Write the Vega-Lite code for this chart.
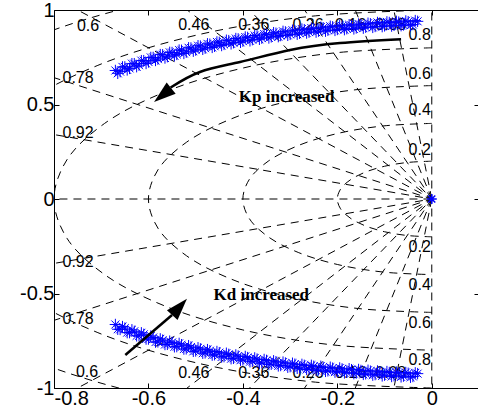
{
"$schema":"https://vega.github.io/schema/vega-lite/v6.json",
"width":425,"height":378,
"autosize":{"type":"none"},
"padding":{"left":54,"top":10,"right":0,"bottom":29},
"background":"white",
"config":{"view":{"stroke":"black","strokeWidth":1},
 "axis":{"domain":false,"grid":false,"ticks":true,"tickSize":-5,"tickColor":"black","labelColor":"black","labelFont":"Liberation Sans","labelFontSize":20,"title":null}},
"resolve":{"axis":{"x":"independent","y":"independent"}},
"datasets":{
"rays":[
{"g":"z92u","x":0,"y":0},{"g":"z92u","x":-1.38,"y":0.588},
{"g":"z78u","x":0,"y":0},{"g":"z78u","x":-1.17,"y":0.939},
{"g":"z60u","x":0,"y":0},{"g":"z60u","x":-0.9,"y":1.2},
{"g":"z46u","x":0,"y":0},{"g":"z46u","x":-0.69,"y":1.332},
{"g":"z36u","x":0,"y":0},{"g":"z36u","x":-0.54,"y":1.399},
{"g":"z26u","x":0,"y":0},{"g":"z26u","x":-0.39,"y":1.448},
{"g":"z16u","x":0,"y":0},{"g":"z16u","x":-0.24,"y":1.481},
{"g":"z08u","x":0,"y":0},{"g":"z08u","x":-0.12,"y":1.495},
{"g":"z92l","x":0,"y":0},{"g":"z92l","x":-1.38,"y":-0.588},
{"g":"z78l","x":0,"y":0},{"g":"z78l","x":-1.17,"y":-0.939},
{"g":"z60l","x":0,"y":0},{"g":"z60l","x":-0.9,"y":-1.2},
{"g":"z46l","x":0,"y":0},{"g":"z46l","x":-0.69,"y":-1.332},
{"g":"z36l","x":0,"y":0},{"g":"z36l","x":-0.54,"y":-1.399},
{"g":"z26l","x":0,"y":0},{"g":"z26l","x":-0.39,"y":-1.448},
{"g":"z16l","x":0,"y":0},{"g":"z16l","x":-0.24,"y":-1.481},
{"g":"z08l","x":0,"y":0},{"g":"z08l","x":-0.12,"y":-1.495},
{"g":"real","x":0,"y":0},{"g":"real","x":-1.5,"y":0},
{"g":"imag","x":0,"y":-1.5},{"g":"imag","x":0,"y":1.5}
],
"circles":[
{"r":0.2,"i":0,"x":0,"y":0.2},{"r":0.2,"i":1,"x":-0.0518,"y":0.1932},{"r":0.2,"i":2,"x":-0.1,"y":0.1732},{"r":0.2,"i":3,"x":-0.1414,"y":0.1414},{"r":0.2,"i":4,"x":-0.1732,"y":0.1},{"r":0.2,"i":5,"x":-0.1932,"y":0.0518},{"r":0.2,"i":6,"x":-0.2,"y":0},{"r":0.2,"i":7,"x":-0.1932,"y":-0.0518},{"r":0.2,"i":8,"x":-0.1732,"y":-0.1},{"r":0.2,"i":9,"x":-0.1414,"y":-0.1414},{"r":0.2,"i":10,"x":-0.1,"y":-0.1732},{"r":0.2,"i":11,"x":-0.0518,"y":-0.1932},{"r":0.2,"i":12,"x":0,"y":-0.2},
{"r":0.4,"i":0,"x":0,"y":0.4},{"r":0.4,"i":1,"x":-0.1035,"y":0.3864},{"r":0.4,"i":2,"x":-0.2,"y":0.3464},{"r":0.4,"i":3,"x":-0.2828,"y":0.2828},{"r":0.4,"i":4,"x":-0.3464,"y":0.2},{"r":0.4,"i":5,"x":-0.3864,"y":0.1035},{"r":0.4,"i":6,"x":-0.4,"y":0},{"r":0.4,"i":7,"x":-0.3864,"y":-0.1035},{"r":0.4,"i":8,"x":-0.3464,"y":-0.2},{"r":0.4,"i":9,"x":-0.2828,"y":-0.2828},{"r":0.4,"i":10,"x":-0.2,"y":-0.3464},{"r":0.4,"i":11,"x":-0.1035,"y":-0.3864},{"r":0.4,"i":12,"x":0,"y":-0.4},
{"r":0.6,"i":0,"x":0,"y":0.6},{"r":0.6,"i":1,"x":-0.1553,"y":0.5796},{"r":0.6,"i":2,"x":-0.3,"y":0.5196},{"r":0.6,"i":3,"x":-0.4243,"y":0.4243},{"r":0.6,"i":4,"x":-0.5196,"y":0.3},{"r":0.6,"i":5,"x":-0.5796,"y":0.1553},{"r":0.6,"i":6,"x":-0.6,"y":0},{"r":0.6,"i":7,"x":-0.5796,"y":-0.1553},{"r":0.6,"i":8,"x":-0.5196,"y":-0.3},{"r":0.6,"i":9,"x":-0.4243,"y":-0.4243},{"r":0.6,"i":10,"x":-0.3,"y":-0.5196},{"r":0.6,"i":11,"x":-0.1553,"y":-0.5796},{"r":0.6,"i":12,"x":0,"y":-0.6},
{"r":0.8,"i":0,"x":0,"y":0.8},{"r":0.8,"i":1,"x":-0.2071,"y":0.7727},{"r":0.8,"i":2,"x":-0.4,"y":0.6928},{"r":0.8,"i":3,"x":-0.5657,"y":0.5657},{"r":0.8,"i":4,"x":-0.6928,"y":0.4},{"r":0.8,"i":5,"x":-0.7727,"y":0.2071},{"r":0.8,"i":6,"x":-0.8,"y":0},{"r":0.8,"i":7,"x":-0.7727,"y":-0.2071},{"r":0.8,"i":8,"x":-0.6928,"y":-0.4},{"r":0.8,"i":9,"x":-0.5657,"y":-0.5657},{"r":0.8,"i":10,"x":-0.4,"y":-0.6928},{"r":0.8,"i":11,"x":-0.2071,"y":-0.7727},{"r":0.8,"i":12,"x":0,"y":-0.8},
{"r":1.0,"i":0,"x":0,"y":1},{"r":1.0,"i":1,"x":-0.2588,"y":0.9659},{"r":1.0,"i":2,"x":-0.5,"y":0.866},{"r":1.0,"i":3,"x":-0.7071,"y":0.7071},{"r":1.0,"i":4,"x":-0.866,"y":0.5},{"r":1.0,"i":5,"x":-0.9659,"y":0.2588},{"r":1.0,"i":6,"x":-1,"y":0},{"r":1.0,"i":7,"x":-0.9659,"y":-0.2588},{"r":1.0,"i":8,"x":-0.866,"y":-0.5},{"r":1.0,"i":9,"x":-0.7071,"y":-0.7071},{"r":1.0,"i":10,"x":-0.5,"y":-0.866},{"r":1.0,"i":11,"x":-0.2588,"y":-0.9659},{"r":1.0,"i":12,"x":0,"y":-1},
{"r":1.2,"i":0,"x":0,"y":1.2},{"r":1.2,"i":1,"x":-0.3106,"y":1.1591},{"r":1.2,"i":2,"x":-0.6,"y":1.0392},{"r":1.2,"i":3,"x":-0.8485,"y":0.8485},{"r":1.2,"i":4,"x":-1.0392,"y":0.6},{"r":1.2,"i":5,"x":-1.1591,"y":0.3106},{"r":1.2,"i":6,"x":-1.2,"y":0},{"r":1.2,"i":7,"x":-1.1591,"y":-0.3106},{"r":1.2,"i":8,"x":-1.0392,"y":-0.6},{"r":1.2,"i":9,"x":-0.8485,"y":-0.8485},{"r":1.2,"i":10,"x":-0.6,"y":-1.0392},{"r":1.2,"i":11,"x":-0.3106,"y":-1.1591},{"r":1.2,"i":12,"x":0,"y":-1.2}
],
"locus":[
{"x":-0.670,"yu":0.680,"yl":-0.664},{"x":-0.660,"yu":0.674,"yl":-0.690},{"x":-0.650,"yu":0.699,"yl":-0.683},{"x":-0.640,"yu":0.691,"yl":-0.707},
{"x":-0.630,"yu":0.716,"yl":-0.700},{"x":-0.620,"yu":0.708,"yl":-0.724},{"x":-0.610,"yu":0.732,"yl":-0.716},{"x":-0.600,"yu":0.725,"yl":-0.741},
{"x":-0.590,"yu":0.749,"yl":-0.733},{"x":-0.580,"yu":0.740,"yl":-0.756},{"x":-0.570,"yu":0.763,"yl":-0.747},{"x":-0.560,"yu":0.753,"yl":-0.769},
{"x":-0.550,"yu":0.775,"yl":-0.759},{"x":-0.540,"yu":0.765,"yl":-0.781},{"x":-0.530,"yu":0.787,"yl":-0.771},{"x":-0.520,"yu":0.777,"yl":-0.793},
{"x":-0.510,"yu":0.799,"yl":-0.783},{"x":-0.500,"yu":0.788,"yl":-0.804},{"x":-0.490,"yu":0.809,"yl":-0.793},{"x":-0.480,"yu":0.798,"yl":-0.814},
{"x":-0.470,"yu":0.819,"yl":-0.803},{"x":-0.460,"yu":0.808,"yl":-0.824},{"x":-0.450,"yu":0.829,"yl":-0.813},{"x":-0.440,"yu":0.818,"yl":-0.834},
{"x":-0.430,"yu":0.838,"yl":-0.822},{"x":-0.420,"yu":0.827,"yl":-0.843},{"x":-0.410,"yu":0.847,"yl":-0.831},{"x":-0.400,"yu":0.835,"yl":-0.851},
{"x":-0.390,"yu":0.855,"yl":-0.839},{"x":-0.380,"yu":0.843,"yl":-0.859},{"x":-0.370,"yu":0.863,"yl":-0.847},{"x":-0.360,"yu":0.851,"yl":-0.867},
{"x":-0.350,"yu":0.870,"yl":-0.854},{"x":-0.340,"yu":0.858,"yl":-0.874},{"x":-0.330,"yu":0.877,"yl":-0.861},{"x":-0.320,"yu":0.865,"yl":-0.881},
{"x":-0.310,"yu":0.884,"yl":-0.868},{"x":-0.300,"yu":0.871,"yl":-0.887},{"x":-0.290,"yu":0.890,"yl":-0.874},{"x":-0.280,"yu":0.877,"yl":-0.893},
{"x":-0.270,"yu":0.896,"yl":-0.880},{"x":-0.260,"yu":0.883,"yl":-0.899},{"x":-0.250,"yu":0.901,"yl":-0.885},{"x":-0.240,"yu":0.888,"yl":-0.904},
{"x":-0.230,"yu":0.906,"yl":-0.890},{"x":-0.220,"yu":0.893,"yl":-0.909},{"x":-0.210,"yu":0.911,"yl":-0.895},{"x":-0.200,"yu":0.897,"yl":-0.913},
{"x":-0.190,"yu":0.915,"yl":-0.899},{"x":-0.180,"yu":0.901,"yl":-0.917},{"x":-0.170,"yu":0.919,"yl":-0.903},{"x":-0.160,"yu":0.905,"yl":-0.921},
{"x":-0.150,"yu":0.923,"yl":-0.907},{"x":-0.140,"yu":0.909,"yl":-0.925},{"x":-0.130,"yu":0.927,"yl":-0.911},{"x":-0.120,"yu":0.913,"yl":-0.929},
{"x":-0.110,"yu":0.931,"yl":-0.915},{"x":-0.100,"yu":0.916,"yl":-0.932},{"x":-0.090,"yu":0.934,"yl":-0.918},{"x":-0.080,"yu":0.919,"yl":-0.935},
{"x":-0.070,"yu":0.936,"yl":-0.920},{"x":-0.060,"yu":0.921,"yl":-0.937},{"x":-0.050,"yu":0.938,"yl":-0.922},{"x":-0.040,"yu":0.923,"yl":-0.939},
{"x":-0.030,"yu":0.940,"yl":-0.924},
{"x":-0.665,"yu":0.665,"yl":-0.689},{"x":-0.655,"yu":0.699,"yl":-0.675},{"x":-0.645,"yu":0.683,"yl":-0.707},{"x":-0.635,"yu":0.716,"yl":-0.692},
{"x":-0.625,"yu":0.700,"yl":-0.724},{"x":-0.615,"yu":0.732,"yl":-0.708},{"x":-0.605,"yu":0.717,"yl":-0.741},{"x":-0.595,"yu":0.749,"yl":-0.725},
{"x":-0.585,"yu":0.733,"yl":-0.757},{"x":-0.575,"yu":0.764,"yl":-0.740},{"x":-0.565,"yu":0.746,"yl":-0.770},{"x":-0.555,"yu":0.776,"yl":-0.752},
{"x":-0.545,"yu":0.758,"yl":-0.782},{"x":-0.535,"yu":0.788,"yl":-0.764},{"x":-0.525,"yu":0.770,"yl":-0.794},{"x":-0.515,"yu":0.800,"yl":-0.776},
{"x":-0.505,"yu":0.782,"yl":-0.806},{"x":-0.495,"yu":0.811,"yl":-0.787},{"x":-0.485,"yu":0.792,"yl":-0.816},{"x":-0.475,"yu":0.821,"yl":-0.797},
{"x":-0.465,"yu":0.802,"yl":-0.826},{"x":-0.455,"yu":0.831,"yl":-0.807},{"x":-0.445,"yu":0.812,"yl":-0.836},{"x":-0.435,"yu":0.840,"yl":-0.816},
{"x":-0.425,"yu":0.821,"yl":-0.845},{"x":-0.415,"yu":0.849,"yl":-0.825},{"x":-0.405,"yu":0.829,"yl":-0.853},{"x":-0.395,"yu":0.857,"yl":-0.833},
{"x":-0.385,"yu":0.837,"yl":-0.861},{"x":-0.375,"yu":0.865,"yl":-0.841},{"x":-0.365,"yu":0.845,"yl":-0.869},{"x":-0.355,"yu":0.873,"yl":-0.849},
{"x":-0.345,"yu":0.852,"yl":-0.876},{"x":-0.335,"yu":0.880,"yl":-0.856},{"x":-0.325,"yu":0.859,"yl":-0.883},{"x":-0.315,"yu":0.887,"yl":-0.863},
{"x":-0.305,"yu":0.866,"yl":-0.890},{"x":-0.295,"yu":0.893,"yl":-0.869},{"x":-0.285,"yu":0.872,"yl":-0.896},{"x":-0.275,"yu":0.899,"yl":-0.875},
{"x":-0.265,"yu":0.878,"yl":-0.902},{"x":-0.255,"yu":0.904,"yl":-0.880},{"x":-0.245,"yu":0.883,"yl":-0.907},{"x":-0.235,"yu":0.909,"yl":-0.885},
{"x":-0.225,"yu":0.888,"yl":-0.912},{"x":-0.215,"yu":0.914,"yl":-0.890},{"x":-0.205,"yu":0.892,"yl":-0.916},{"x":-0.195,"yu":0.918,"yl":-0.894},
{"x":-0.185,"yu":0.896,"yl":-0.920},{"x":-0.175,"yu":0.922,"yl":-0.898},{"x":-0.165,"yu":0.900,"yl":-0.924},{"x":-0.155,"yu":0.926,"yl":-0.902},
{"x":-0.145,"yu":0.904,"yl":-0.928},{"x":-0.135,"yu":0.930,"yl":-0.906},{"x":-0.125,"yu":0.908,"yl":-0.932},{"x":-0.115,"yu":0.934,"yl":-0.910},
{"x":-0.105,"yu":0.912,"yl":-0.936},{"x":-0.095,"yu":0.937,"yl":-0.913},{"x":-0.085,"yu":0.915,"yl":-0.939},{"x":-0.075,"yu":0.940,"yl":-0.916},
{"x":-0.065,"yu":0.917,"yl":-0.941},{"x":-0.055,"yu":0.942,"yl":-0.918},{"x":-0.045,"yu":0.919,"yl":-0.943},{"x":-0.035,"yu":0.944,"yl":-0.920}
],
"origin":[{"x":0,"y":0}],
"kparrow":[{"i":0,"x":-0.065,"y":0.845},{"i":1,"x":-0.194,"y":0.825},{"i":2,"x":-0.300,"y":0.788},{"i":3,"x":-0.406,"y":0.725},{"i":4,"x":-0.491,"y":0.672},{"i":5,"x":-0.553,"y":0.590}],
"kdarrow":[{"i":0,"x":-0.649,"y":-0.825},{"i":1,"x":-0.550,"y":-0.614}],
"kphead":[{"x":-0.570,"y":0.550}],
"kdhead":[{"x":-0.534,"y":-0.571}],
"zlab":[
{"t":"0.6","x":-0.728,"y":0.915},{"t":"0.46","x":-0.504,"y":0.921},{"t":"0.36","x":-0.377,"y":0.921},{"t":"0.26","x":-0.262,"y":0.921},{"t":"0.16","x":-0.172,"y":0.921},{"t":"0.08","x":-0.087,"y":0.921},
{"t":"0.78","x":-0.749,"y":0.640},{"t":"0.92","x":-0.749,"y":0.349},
{"t":"0.6","x":-0.730,"y":-0.915},{"t":"0.46","x":-0.504,"y":-0.921},{"t":"0.36","x":-0.377,"y":-0.921},{"t":"0.26","x":-0.262,"y":-0.921},{"t":"0.16","x":-0.172,"y":-0.921},{"t":"0.08","x":-0.087,"y":-0.921},
{"t":"0.78","x":-0.749,"y":-0.635},{"t":"0.92","x":-0.749,"y":-0.333}
],
"wlab":[
{"t":"0.8","x":-0.002,"y":0.868},{"t":"0.6","x":-0.002,"y":0.661},{"t":"0.4","x":-0.002,"y":0.471},{"t":"0.2","x":-0.002,"y":0.259},
{"t":"0.2","x":-0.002,"y":-0.254},{"t":"0.4","x":-0.002,"y":-0.455},{"t":"0.6","x":-0.002,"y":-0.656},{"t":"0.8","x":-0.002,"y":-0.852}
],
"notes":[{"t":"Kp increased","x":-0.3075,"y":0.540},{"t":"Kd increased","x":-0.361,"y":-0.508}]
},
"layer":[
{"data":{"name":"rays"},
 "mark":{"type":"line","clip":true,"strokeDash":[8,6],"strokeWidth":1,"color":"black"},
 "encoding":{
  "x":{"field":"x","type":"quantitative","scale":{"domain":[-0.8,0.1],"nice":false,"zero":false},"axis":{"orient":"bottom","values":[-0.8,-0.6,-0.4,-0.2,0],"labelExpr":"''+datum.value","labelPadding":5}},
  "y":{"field":"y","type":"quantitative","scale":{"domain":[-1,1],"nice":false,"zero":false},"axis":{"orient":"left","values":[-1,-0.5,0,0.5,1],"labelExpr":"''+datum.value","labelPadding":5}},
  "detail":{"field":"g"}}},
{"data":{"name":"circles"},
 "mark":{"type":"line","clip":true,"interpolate":"catmull-rom","strokeDash":[8,6],"strokeWidth":1,"color":"black"},
 "encoding":{
  "x":{"field":"x","type":"quantitative","scale":{"domain":[-0.8,0.1],"nice":false,"zero":false},"axis":null},
  "y":{"field":"y","type":"quantitative","scale":{"domain":[-1,1],"nice":false,"zero":false},"axis":null},
  "detail":{"field":"r"},"order":{"field":"i","type":"quantitative"}}},
{"data":{"name":"zlab"},
 "mark":{"type":"text","font":"Liberation Sans","fontSize":16,"color":"black","align":"center","baseline":"middle"},
 "encoding":{
  "x":{"field":"x","type":"quantitative","scale":{"domain":[-0.8,0.1],"nice":false,"zero":false},"axis":null},
  "y":{"field":"y","type":"quantitative","scale":{"domain":[-1,1],"nice":false,"zero":false},"axis":null},
  "text":{"field":"t"}}},
{"data":{"name":"wlab"},
 "mark":{"type":"text","font":"Liberation Sans","fontSize":16,"color":"black","align":"right","baseline":"middle"},
 "encoding":{
  "x":{"field":"x","type":"quantitative","scale":{"domain":[-0.8,0.1],"nice":false,"zero":false},"axis":null},
  "y":{"field":"y","type":"quantitative","scale":{"domain":[-1,1],"nice":false,"zero":false},"axis":null},
  "text":{"field":"t"}}},
{"data":{"name":"locus"},
 "mark":{"type":"point","shape":"M-1,0L1,0M0,-1L0,1M-0.7,-0.7L0.7,0.7M-0.7,0.7L0.7,-0.7","filled":false,"stroke":"#0000ff","strokeWidth":1,"size":130,"opacity":1},
 "encoding":{
  "x":{"field":"x","type":"quantitative","scale":{"domain":[-0.8,0.1],"nice":false,"zero":false},"axis":null},
  "y":{"field":"yu","type":"quantitative","scale":{"domain":[-1,1],"nice":false,"zero":false},"axis":null}}},
{"data":{"name":"locus"},
 "mark":{"type":"point","shape":"M-1,0L1,0M0,-1L0,1M-0.7,-0.7L0.7,0.7M-0.7,0.7L0.7,-0.7","filled":false,"stroke":"#0000ff","strokeWidth":1,"size":130,"opacity":1},
 "encoding":{
  "x":{"field":"x","type":"quantitative","scale":{"domain":[-0.8,0.1],"nice":false,"zero":false},"axis":null},
  "y":{"field":"yl","type":"quantitative","scale":{"domain":[-1,1],"nice":false,"zero":false},"axis":null}}},
{"data":{"name":"origin"},
 "mark":{"type":"point","shape":"M-1,0L1,0M0,-1L0,1M-0.7,-0.7L0.7,0.7M-0.7,0.7L0.7,-0.7","filled":false,"stroke":"#0000ff","strokeWidth":1.5,"size":100,"opacity":1},
 "encoding":{
  "x":{"field":"x","type":"quantitative","scale":{"domain":[-0.8,0.1],"nice":false,"zero":false},"axis":{"orient":"top","values":[-0.8,-0.6,-0.4,-0.2,0],"labels":false}},
  "y":{"field":"y","type":"quantitative","scale":{"domain":[-1,1],"nice":false,"zero":false},"axis":{"orient":"right","values":[-1,-0.5,0,0.5,1],"labels":false}}}},
{"data":{"name":"kparrow"},
 "mark":{"type":"line","interpolate":"natural","strokeWidth":2.5,"color":"black"},
 "encoding":{
  "x":{"field":"x","type":"quantitative","scale":{"domain":[-0.8,0.1],"nice":false,"zero":false},"axis":null},
  "y":{"field":"y","type":"quantitative","scale":{"domain":[-1,1],"nice":false,"zero":false},"axis":null},
  "order":{"field":"i","type":"quantitative"}}},
{"data":{"name":"kdarrow"},
 "mark":{"type":"line","strokeWidth":2.5,"color":"black"},
 "encoding":{
  "x":{"field":"x","type":"quantitative","scale":{"domain":[-0.8,0.1],"nice":false,"zero":false},"axis":null},
  "y":{"field":"y","type":"quantitative","scale":{"domain":[-1,1],"nice":false,"zero":false},"axis":null},
  "order":{"field":"i","type":"quantitative"}}},
{"data":{"name":"kphead"},
 "mark":{"type":"point","shape":"M0,-1L0.65,1L-0.65,1Z","filled":true,"color":"black","size":484,"angle":231,"opacity":1},
 "encoding":{
  "x":{"field":"x","type":"quantitative","scale":{"domain":[-0.8,0.1],"nice":false,"zero":false},"axis":null},
  "y":{"field":"y","type":"quantitative","scale":{"domain":[-1,1],"nice":false,"zero":false},"axis":null}}},
{"data":{"name":"kdhead"},
 "mark":{"type":"point","shape":"M0,-1L0.65,1L-0.65,1Z","filled":true,"color":"black","size":484,"angle":42,"opacity":1},
 "encoding":{
  "x":{"field":"x","type":"quantitative","scale":{"domain":[-0.8,0.1],"nice":false,"zero":false},"axis":null},
  "y":{"field":"y","type":"quantitative","scale":{"domain":[-1,1],"nice":false,"zero":false},"axis":null}}},
{"data":{"name":"notes"},
 "mark":{"type":"text","font":"Liberation Serif","fontWeight":"bold","fontSize":17,"color":"black","align":"center","baseline":"middle"},
 "encoding":{
  "x":{"field":"x","type":"quantitative","scale":{"domain":[-0.8,0.1],"nice":false,"zero":false},"axis":null},
  "y":{"field":"y","type":"quantitative","scale":{"domain":[-1,1],"nice":false,"zero":false},"axis":null},
  "text":{"field":"t"}}}
]
}
